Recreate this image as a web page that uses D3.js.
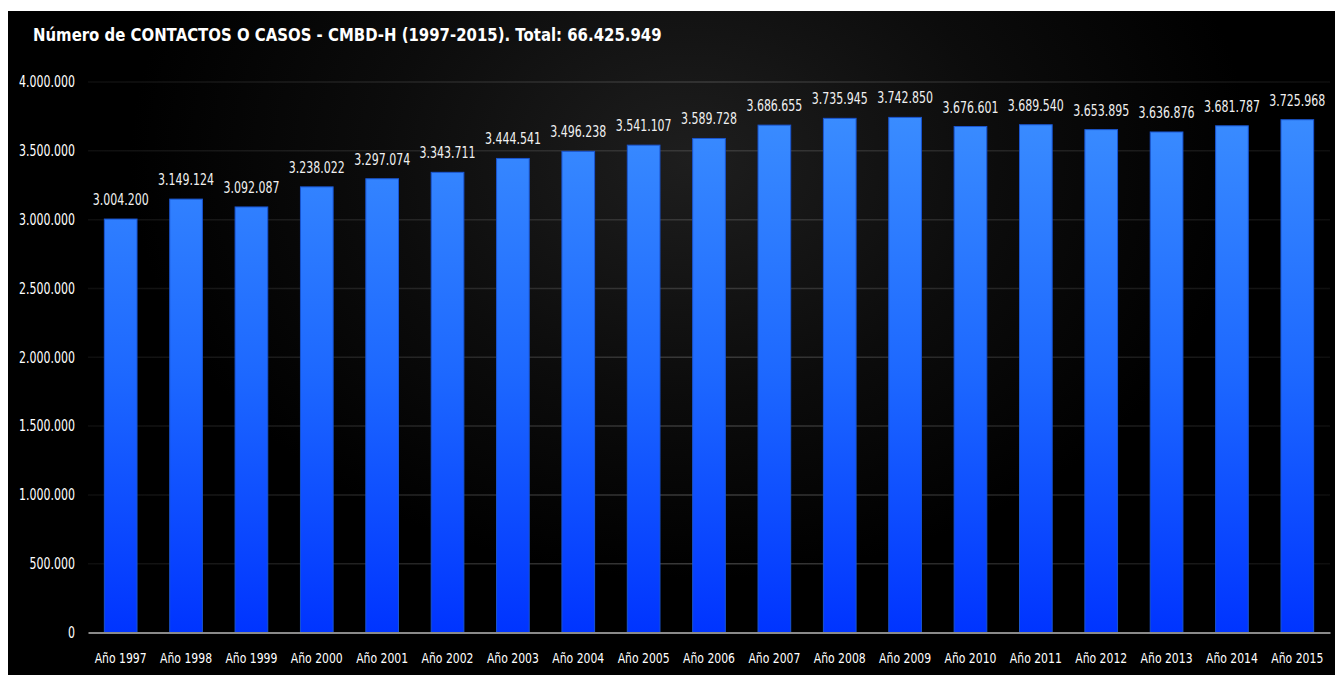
<!DOCTYPE html>
<html>
<head>
<meta charset="utf-8">
<script src="https://cdn.jsdelivr.net/npm/d3@7"></script>
<style>
  html, body { margin: 0; padding: 0; background: #ffffff; }
  svg { display: block; }
</style>
</head>
<body>
<svg id="chart" width="1335" height="675"></svg>
<script>
const titleText = "Número de CONTACTOS O CASOS - CMBD-H (1997-2015). Total: 66.425.949";
const years = ["Año 1997","Año 1998","Año 1999","Año 2000","Año 2001","Año 2002","Año 2003","Año 2004","Año 2005","Año 2006","Año 2007","Año 2008","Año 2009","Año 2010","Año 2011","Año 2012","Año 2013","Año 2014","Año 2015"];
const contactos = [3004200,3149124,3092087,3238022,3297074,3343711,3444541,3496238,3541107,3589728,3686655,3735945,3742850,3676601,3689540,3653895,3636876,3681787,3725968];
const yTicks = [0,500000,1000000,1500000,2000000,2500000,3000000,3500000,4000000];

const W = 1335, H = 675;
const svg = d3.select("#chart");
const font = "'DejaVu Sans',sans-serif";
const fmt = d => d3.format(",")(d).replace(/,/g, ".");

// horizontally condense text (Calibri-like narrow look), scaling around each anchor point
function condenseBy(sel, s) {
  sel.each(function() {
    const t = d3.select(this);
    const tx = +t.attr("x") || 0, ty = +t.attr("y") || 0;
    t.attr("x", 0).attr("y", 0)
     .attr("transform", `translate(${tx},${ty}) scale(${s},1)`);
  });
}
function condense(sel, targetWidth, refNode) {
  const natural = (refNode || sel.node()).getComputedTextLength();
  condenseBy(sel, targetWidth / natural);
}

const defs = svg.append("defs");
const bg = defs.append("radialGradient").attr("id","bgGrad")
  .attr("gradientUnits","userSpaceOnUse").attr("cx",690).attr("cy",160).attr("r",560)
  .attr("gradientTransform","translate(690,160) scale(1,0.75) translate(-690,-160)");
bg.append("stop").attr("offset","0%").attr("stop-color","#1e1e1e");
bg.append("stop").attr("offset","55%").attr("stop-color","#0c0c0c");
bg.append("stop").attr("offset","100%").attr("stop-color","#000000");

const x = d3.scaleBand().domain(years).range([88, 1330]).paddingInner(0.5).paddingOuter(0.25);
const y = d3.scaleLinear().domain([0, 4000000]).range([632.5, 82]);

const barGrad = defs.append("linearGradient").attr("id","barGrad")
  .attr("gradientUnits","userSpaceOnUse").attr("x1",0).attr("x2",0).attr("y1",y(3750000)).attr("y2",y(0));
barGrad.append("stop").attr("offset","0%").attr("stop-color","#3a8cff");
barGrad.append("stop").attr("offset","50%").attr("stop-color","#1d68ff");
barGrad.append("stop").attr("offset","100%").attr("stop-color","#0034ff");

const gridGrad = defs.append("linearGradient").attr("id","gridGrad")
  .attr("gradientUnits","userSpaceOnUse").attr("x1",88).attr("x2",1330).attr("y1",0).attr("y2",0);
gridGrad.append("stop").attr("offset","0%").attr("stop-color","#0e0e0e");
gridGrad.append("stop").attr("offset","50%").attr("stop-color","#3a3a3a");
gridGrad.append("stop").attr("offset","100%").attr("stop-color","#0e0e0e");

// panel
svg.append("rect").attr("x",8).attr("y",11).attr("width",W-8).attr("height",H-11).attr("fill","url(#bgGrad)");

// title
const title = svg.append("text").attr("x",33).attr("y",41).attr("fill","#ffffff")
  .attr("font-family",font).attr("font-weight","bold").attr("font-size",17)
  .text(titleText);
condense(title, 629);

// gridlines
svg.append("g").selectAll("line").data(yTicks.filter(d => d > 0)).join("line")
  .attr("x1",88).attr("x2",1330).attr("y1",d => y(d)).attr("y2",d => y(d))
  .attr("stroke","url(#gridGrad)").attr("stroke-width",1.5);

// y axis
const yAxis = d3.axisLeft(y).tickValues(yTicks).tickSize(0).tickPadding(0).tickFormat(fmt);
const gy = svg.append("g").attr("transform","translate(75,0)").call(yAxis);
gy.select(".domain").remove();
const yTexts = gy.selectAll(".tick text").attr("fill","#ffffff").attr("font-family",font).attr("font-size",15);
const yRef = yTexts.filter(d => d === 4000000).node();
condense(yTexts, 56, yRef);

// bars
svg.append("g").selectAll("rect").data(contactos).join("rect")
  .attr("x",(d,i) => x(years[i])).attr("width",x.bandwidth())
  .attr("y",d => y(d)).attr("height",d => y(0) - y(d))
  .attr("fill","url(#barGrad)").attr("stroke","#1a55d0").attr("stroke-width",1);

// value labels
const vLabels = svg.append("g").selectAll("text").data(contactos).join("text")
  .attr("x",(d,i) => x(years[i]) + x.bandwidth()/2).attr("y",d => y(d) - 14)
  .attr("text-anchor","middle").attr("fill","#f0f0f0")
  .attr("font-family",font).attr("font-size",16)
  .text(fmt);
condense(vLabels, 56);

// x axis
const xAxis = d3.axisBottom(x).tickSize(0).tickPadding(20);
const gx = svg.append("g").attr("transform","translate(0,632.5)").call(xAxis);
gx.select(".domain").attr("stroke","#8a8a8a").attr("stroke-width",2);
const xTexts = gx.selectAll(".tick text").attr("fill","#ffffff").attr("font-family",font).attr("font-size",14.5);
condense(xTexts, 52);
</script>
</body>
</html>
